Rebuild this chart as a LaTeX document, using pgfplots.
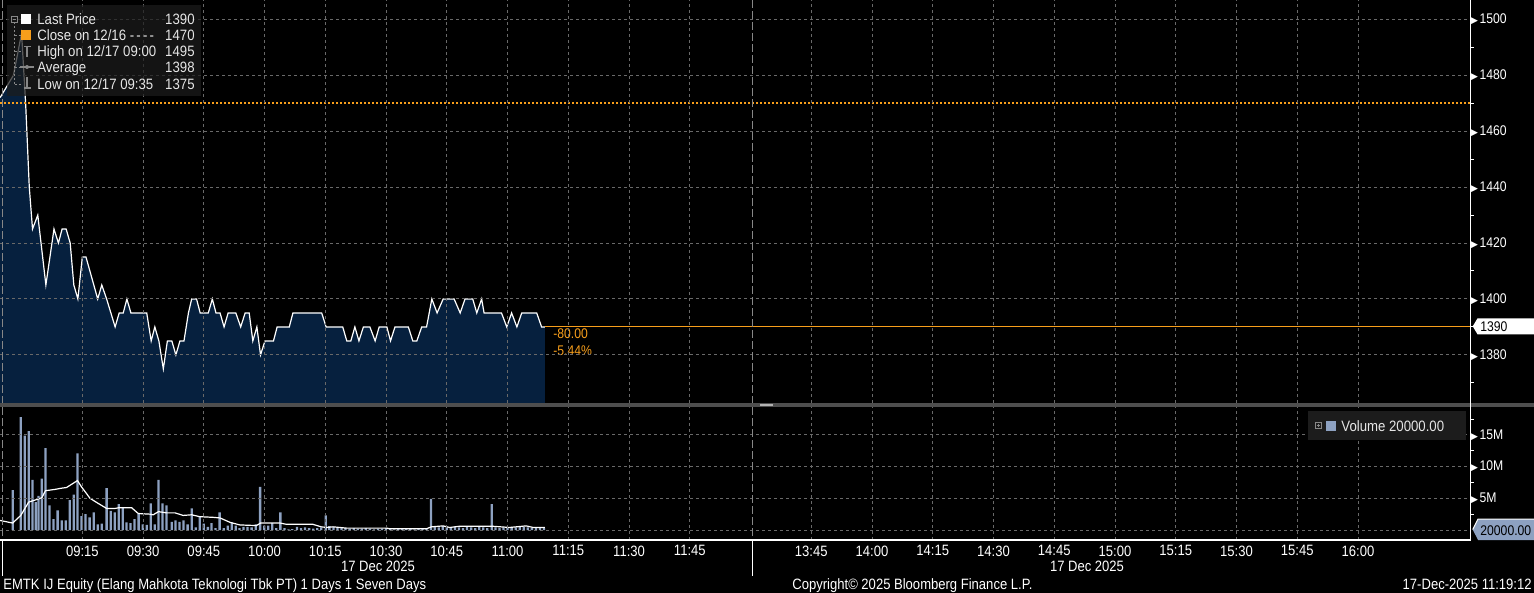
\documentclass[border=0pt]{standalone}
\usepackage{pgfplots}
\usepackage{pgfplotstable}
\pgfplotsset{compat=1.18}
\usepackage{fontspec}
\setmainfont{Liberation Sans}
\newfontfamily\bbg[FakeStretch=0.87]{Liberation Sans}
\newfontfamily\bbl[FakeStretch=0.88]{Liberation Sans}
\newfontfamily\dejavu{DejaVu Sans}
\definecolor{areac}{RGB}{6,32,62}
\definecolor{bbor}{RGB}{247,158,27}
\definecolor{gridc}{RGB}{105,105,105}
\definecolor{volc}{RGB}{141,161,193}
\definecolor{txt}{RGB}{230,230,230}
\definecolor{legbg}{RGB}{28,28,28}
\definecolor{sepc}{RGB}{78,78,78}
\definecolor{edgec}{RGB}{135,135,135}
\newcommand{\tri}{{\dejavu\fontsize{4.5}{4.5}\selectfont\char"25B6}\hspace{0.8pt}}

% minutes: 0 = 09:00, 180 = 12:00 / 13:30 (lunch break collapsed)
\pgfplotstableread{
m p
-5.3 1472
-2.0 1480
0.0 1495
1.0 1470
1.9 1440
2.7 1425
4.0 1430
6.0 1405
8.0 1425
9.1 1420
10.0 1425
11.0 1425
12.0 1420
12.9 1405
13.9 1400
15.0 1415
15.9 1415
18.8 1400
19.8 1405
21.0 1400
23.1 1390
24.1 1395
25.1 1395
26.0 1400
27.0 1395
30.9 1395
32.0 1385
32.9 1390
33.9 1385
35.0 1375
36.0 1385
37.1 1385
38.1 1380
39.1 1385
40.1 1385
41.2 1395
42.0 1400
43.2 1400
44.1 1395
46.1 1395
47.1 1400
48.0 1395
49.0 1395
50.0 1390
51.0 1395
52.9 1395
54.1 1390
55.2 1395
56.2 1395
57.1 1385
58.1 1390
59.0 1380
60.1 1385
62.2 1385
63.1 1390
66.1 1390
67.0 1395
74.1 1395
75.2 1390
79.3 1390
80.3 1385
81.3 1385
82.3 1390
83.3 1385
84.4 1390
86.0 1390
87.3 1385
88.3 1390
90.2 1390
91.1 1385
92.2 1390
95.5 1390
96.6 1385
97.6 1385
98.8 1390
100.0 1390
101.3 1400
102.6 1395
104.1 1400
106.8 1400
108.3 1395
109.5 1400
111.4 1400
112.4 1395
113.6 1400
114.2 1395
118.5 1395
119.8 1390
121.0 1395
122.3 1390
123.5 1395
127.2 1395
128.4 1390
129.2 1390
}\pricetab

% volume in millions
\pgfplotstableread{
m v
-2.2 6.3
-0.2 17.8
0.8 14.9
1.75 15.6
2.7 7.9
3.5 4.4
4.2 5.4
5.0 8.1
5.9 12.9
6.9 3.9
7.9 1.7
8.9 3.1
9.9 1.5
10.9 1.5
11.9 4.7
12.9 5.6
13.8 12.1
14.8 2.2
15.8 2.5
16.8 2.0
17.8 2.8
18.8 0.9
19.8 1.0
21.0 6.6
22.0 3.0
23.0 2.8
24.0 4.1
25.0 3.6
25.9 1.2
26.9 1.1
27.9 1.7
28.9 2.5
29.9 0.9
30.9 0.8
31.9 4.2
32.9 0.9
33.8 7.9
34.8 4.2
35.8 3.9
37.1 1.3
38.0 1.5
39.0 1.3
40.0 1.5
41.0 0.9
42.0 3.4
43.0 0.4
44.0 2.1
45.0 1.0
46.0 0.5
46.9 1.1
47.9 0.3
48.9 2.8
49.9 0.3
50.9 0.7
51.9 1.2
52.9 0.7
53.8 0.3
54.8 0.5
55.8 0.5
56.8 0.4
57.8 0.9
58.9 6.8
59.9 0.7
60.9 0.7
61.9 1.1
62.9 0.3
63.9 2.8
64.9 0.3
65.9 0.1
66.8 0.15
68 0.5
69 0.3
70 0.4
71 0.3
72 0.2
73 0.3
74 0.4
75.1 2.3
76 0.6
77 0.5
78 0.3
79 0.4
80 0.3
81 0.2
82 0.3
83 0.2
84 0.2
85 0.3
86 0.2
87 0.1
88 0.2
89 0.2
90 0.3
91 0.2
92 0.1
93 0.2
94 0.2
95 0.3
96 0.2
97 0.1
98 0.2
99 0.2
100 0.2
101.1 4.9
102 0.5
103 0.4
104 0.6
105 0.4
106 0.3
107 0.5
108 0.4
109 0.3
110 0.5
111 0.4
112 0.3
113 0.5
114 0.4
115 0.3
116.1 4.1
117 0.4
118 0.3
119 0.4
120 0.3
121 0.5
122 0.4
123 0.6
124 0.5
125 0.4
126 0.3
127 0.4
128 0.3
129 0.3
}\voltab

\pgfplotstableread{
m v
-5.3 1.5
-2.2 1.1
-0.2 2.3
1.75 4.4
3.7 4.8
5.0 5.1
5.9 6.2
8.2 6.4
9.9 6.6
11.1 6.7
13.8 7.8
14.8 6.8
16.9 5.0
18.9 4.2
21.0 3.4
23.1 3.4
23.9 3.5
27.2 3.5
28.8 2.6
31.7 2.5
32.5 2.4
33.8 2.9
35.8 2.7
37.9 2.7
39.9 2.3
42.0 2.4
44.0 2.1
47.3 2.0
49.0 1.9
51.5 1.2
53.9 0.8
58.0 0.7
59.0 1.1
63.8 1.1
65.4 0.9
71.9 0.9
74.0 0.5
75.3 0.4
76.9 0.5
80.2 0.3
90.1 0.3
90.9 0.2
100.0 0.2
101.2 0.5
104.1 0.65
105.7 0.4
108.2 0.6
116.1 0.6
120.5 0.4
124.6 0.65
126.3 0.4
129.2 0.4
}\matab

\pgfplotsset{bbstyle/.style={
  scale only axis, width=735.3pt,
  xmin=-5.33, xmax=357.8,
  axis line style={draw=none},
  major tick length=0pt, minor tick length=1.65pt, tick align=outside,
  ytick pos=right, yticklabel pos=right,
  xtick={15,30,45,60,75,90,105,120,135,150,165,195,210,225,240,255,270,285,300,315,330},
  grid=major,
  major grid style={gridc, line width=0.5pt, dash pattern=on 1.5pt off 1.5pt},
  minor tick style={white, line width=0.5pt},
  yticklabel style={font=\bbg\fontsize{7}{8}\selectfont, text=white, anchor=west, inner sep=0pt},
  clip mode=individual, axis on top,
}}

\begin{document}
\begin{tikzpicture}
\path[use as bounding box, fill=black] (0,0) rectangle (767pt,-296.5pt);

\begin{axis}[bbstyle, at={(0pt,0pt)}, anchor=north west, height=201.5pt,
  ymin=1362.8, ymax=1506.9,
  ytick={1380,1400,1420,1440,1460,1480,1500},
  yticklabels={\tri 1380,\tri 1400,\tri 1420,\tri 1440,\tri 1460,\tri 1480,\tri 1500},
  minor ytick={1370,1390,1410,1430,1450,1470,1490},
  xticklabels={}]
\addplot[draw=none, fill=areac] table[x=m,y=p] {\pricetab} \closedcycle;
\addplot[white, line width=0.6pt] table[x=m,y=p] {\pricetab};
\addplot[bbor, line width=1pt, dash pattern=on 1pt off 1pt] coordinates {(-5.33,1470) (357.8,1470)};
\addplot[bbor, line width=0.5pt] coordinates {(129.2,1390) (357.8,1390)};
\node[anchor=west, text=bbor, font=\bbg\fontsize{7}{8}\selectfont, inner sep=0pt] at (axis cs:131.2,1387.6) {-80.00};
\node[anchor=west, text=bbor, font=\bbg\fontsize{7}{8}\selectfont, inner sep=0pt] at (axis cs:131.2,1381.5) {-5.44\%};
\end{axis}

\begin{axis}[bbstyle, at={(0pt,-203.5pt)}, anchor=north west, height=66.5pt,
  ymin=-1.577, ymax=19.4,
  ytick={0,5,10,15},
  yticklabels={,\tri 5M,\tri 10M,\tri 15M},
  minor ytick={2.5,7.5,12.5,17.5},
  xticklabels={09:15,09:30,09:45,10:00,10:15,10:30,10:45,11:00,11:15,11:30,11:45,13:45,14:00,14:15,14:30,14:45,15:00,15:15,15:30,15:45,16:00},
  xticklabel style={font=\bbg\fontsize{7.5}{9}\selectfont, text=white, anchor=north, inner sep=0pt, yshift=-2.6pt}]
\addplot[ybar, bar width=1.15pt, fill=volc, draw=none] table[x=m,y=v] {\voltab};
\addplot[white, line width=0.6pt] table[x=m,y=v] {\matab};
\end{axis}

\begin{scope}[x=0.5pt, y=-0.5pt]
% separator band
\fill[sepc] (0,403) rectangle (1534,407);
\draw[gray!60, line width=0.4pt] (760,404.3) -- (773,404.3) (760,405.8) -- (773,405.8);
% session start / break lines
\draw[edgec, line width=0.5pt, dash pattern=on 4pt off 1.5pt] (2,0) -- (2,403) (2,407) -- (2,540);
\draw[edgec, line width=0.5pt, dash pattern=on 4pt off 1.5pt] (752,0) -- (752,403) (752,407) -- (752,540);
\draw[white, line width=0.5pt] (2,540) -- (2,576) (752,540) -- (752,576);
% axis lines
\draw[white, line width=0.6pt] (0,540) -- (1470.6,540);
\draw[white, line width=0.6pt] (1470.6,0) -- (1470.6,540);

% legend (price)
\fill[legbg, opacity=0.72] (7,5) rectangle (201,96);
\draw[edgec, line width=0.4pt] (11.5,16) rectangle (17.5,22) (13,19) -- (16,19);
\draw[edgec, line width=0.4pt, dash pattern=on 1pt off 1pt] (14.5,22) -- (14.5,84);
\foreach \yy in {35,51,67,84} {\draw[edgec, line width=0.4pt, dash pattern=on 1pt off 1pt] (14.5,\yy) -- (21,\yy);}
\fill[white] (21,14) rectangle (31,24);
\fill[bbor] (21,30) rectangle (31,40);
\draw[edgec, line width=0.6pt] (23.5,46.5) -- (30.5,46.5) (27,46.5) -- (27,57);
\draw[edgec, line width=0.6pt] (20,67) -- (34,67);
\fill[edgec] (27,67) circle (2);
\draw[edgec, line width=0.6pt] (27,77.5) -- (27,88) (23.5,88) -- (30.5,88);
\begin{scope}[every node/.style={inner sep=0pt, text=txt, font=\bbl\fontsize{7.5}{9}\selectfont}]
\node[anchor=base west] at (37,24.3) {Last Price};
\node[anchor=base west] at (37,40.3) {Close on 12/16 -\hspace{1.1pt}-\hspace{1.1pt}-\hspace{1.1pt}-};
\node[anchor=base west] at (37,56.3) {High on 12/17 09:00};
\node[anchor=base west] at (37,72.3) {Average};
\node[anchor=base west] at (37,89.3) {Low on 12/17 09:35};
\node[anchor=base east] at (195,24.3) {1390};
\node[anchor=base east] at (195,40.3) {1470};
\node[anchor=base east] at (195,56.3) {1495};
\node[anchor=base east] at (195,72.3) {1398};
\node[anchor=base east] at (195,89.3) {1375};
\end{scope}
% volume legend
\fill[legbg] (1308,411) rectangle (1466,440);
\draw[edgec, line width=0.4pt] (1315,422.5) rectangle (1321,428.5) (1316.5,425.5) -- (1319.5,425.5) (1318,424) -- (1318,427);
\fill[volc] (1326,421) rectangle (1336,431);
\node[anchor=base west, inner sep=0pt, text=txt, font=\bbl\fontsize{7.5}{9}\selectfont] at (1341,431.3) {Volume 20000.00};

% last value markers
\fill[white] (1472.7,326.3) -- (1477.5,318.3) -- (1534,318.3) -- (1534,334.3) -- (1477.5,334.3) -- cycle;
\node[anchor=base west, inner sep=0pt, text=black, font=\bbg\fontsize{7}{8}\selectfont] at (1480,331.5) {1390};
\fill[volc] (1472.7,529.5) -- (1478,519) -- (1534,519) -- (1534,540) -- (1478,540) -- cycle;
\draw[white, line width=0.5pt] (1472.7,529.5) -- (1478,519) -- (1534,519);
\node[anchor=base west, inner sep=0pt, text=black, font=\bbg\fontsize{7}{8}\selectfont] at (1480,535) {20000.00};

% dates and footer
\begin{scope}[every node/.style={inner sep=0pt, text=white, font=\bbg\fontsize{7.5}{9}\selectfont}]
\node[anchor=base] at (378,571.3) {17 Dec 2025};
\node[anchor=base] at (1087,571.3) {17 Dec 2025};
\node[anchor=base west] at (3,589.3) {EMTK IJ Equity (Elang Mahkota Teknologi Tbk PT) 1 Days 1 Seven Days};
\node[anchor=base west] at (792,589.3) {Copyright© 2025 Bloomberg Finance L.P.};
\node[anchor=base east] at (1532,589.3) {17-Dec-2025 11:19:12};
\end{scope}
\end{scope}
\end{tikzpicture}
\end{document}
